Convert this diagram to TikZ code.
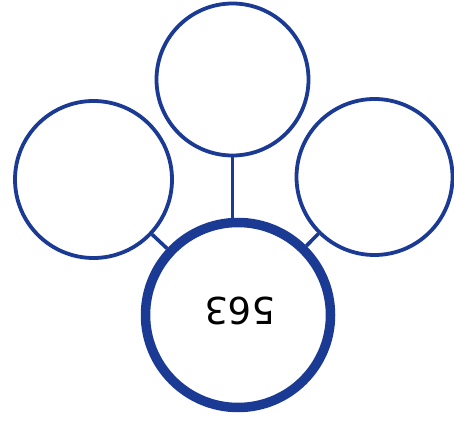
\documentclass[tikz,border=0pt]{standalone}
\usepackage{fontspec}
\setmainfont{DejaVu Sans}
\definecolor{dblue}{RGB}{26,58,148}
\begin{document}
\begin{tikzpicture}[x=1pt,y=-1pt,
  ring/.style={circle,draw=dblue,line width=3.8pt,inner sep=0pt,fill=white},
  bigring/.style={circle,draw=dblue,line width=9.5pt,inner sep=0pt,fill=white},
  link/.style={draw=dblue,line width=3.6pt}]
\useasboundingbox (0,0) rectangle (454,427);
\node[ring,minimum size=152pt] (T) at (232.5,79.5) {};
\node[ring,minimum size=157pt] (L) at (93.5,179.5) {};
\node[ring,minimum size=156pt] (R) at (374.5,177) {};
\node[bigring,minimum size=185pt] (B) at (238,315) {};
\node[rotate=180,font=\fontsize{37}{40}\selectfont,inner sep=0pt] (num) at (240,311) {563};
\draw[link] (T.south) -- (T.south |- B.north);
\draw[link] (L) -- (B);
\draw[link] (R) -- (B);
\end{tikzpicture}
\end{document}
